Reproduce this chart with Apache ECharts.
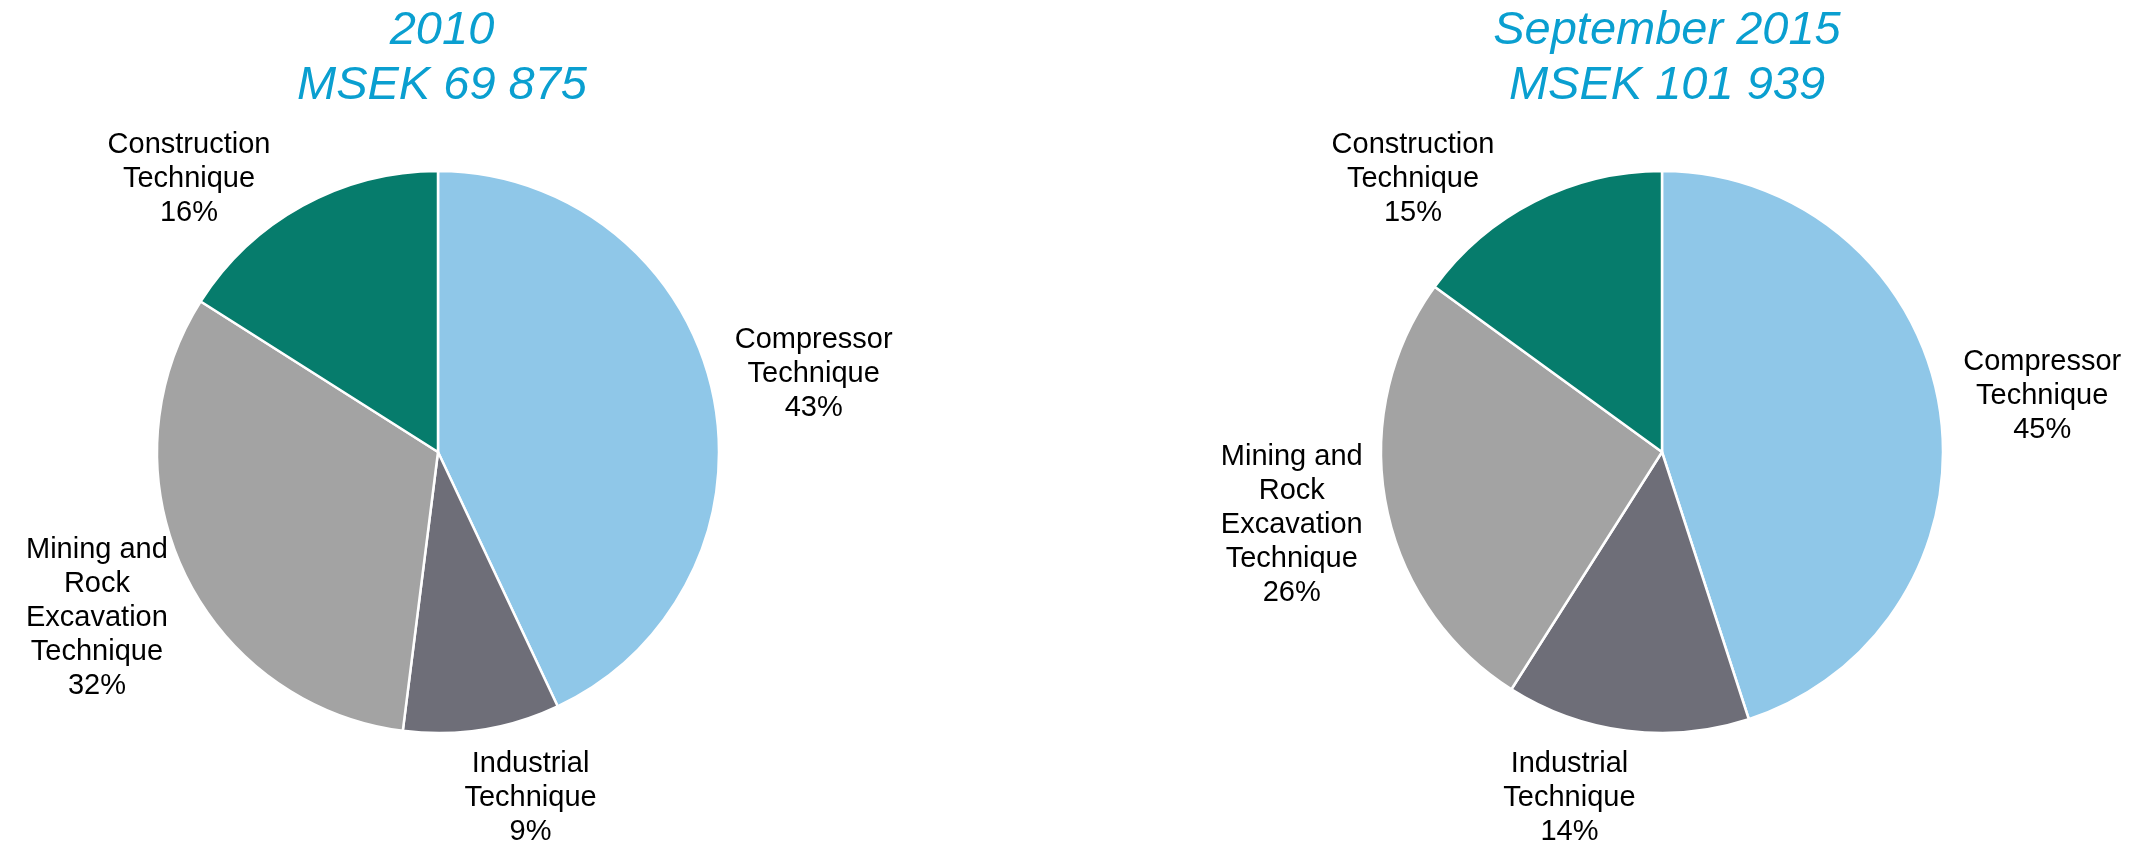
<!DOCTYPE html>
<html><head><meta charset="utf-8">
<script src="https://cdn.jsdelivr.net/npm/echarts@6/dist/echarts.min.js"></script>
<style>html,body{margin:0;padding:0;background:#fff}#c{width:2144px;height:844px}</style>
</head><body><div id="c"></div>
<script>
// ---- data ----
const categories = ['Compressor\nTechnique', 'Industrial\nTechnique', 'Mining and\nRock\nExcavation\nTechnique', 'Construction\nTechnique'];
const share2010 = [43, 9, 32, 16];
const shareSep2015 = [45, 14, 26, 15];
const title2010 = ['2010', 'MSEK 69 875'];
const titleSep2015 = ['September 2015', 'MSEK 101 939'];
const sliceColors = ['#8FC7E8', '#6E6E78', '#A3A3A3', '#067C6C'];

// ---- layout ----
const PIE_R = 281;
const pies = [
  { center: [438, 452], values: share2010, title: title2010, titleX: 442 },
  { center: [1662, 452], values: shareSep2015, title: titleSep2015, titleX: 1667 }
];
const LABEL_GAP = 25, LABEL_TOP = 127, LABEL_BOTTOM = 849;

function placeLabel(pie, idx, rect) {
  const vals = pie.values;
  const total = vals.reduce((a, b) => a + b, 0);
  let before = 0;
  for (let i = 0; i < idx; i++) before += vals[i];
  let theta = (before + vals[idx] / 2) / total * 2 * Math.PI;
  const w = rect.width / 2, h = rect.height / 2;
  const pos = t => {
    const dx = Math.sin(t), dy = -Math.cos(t);
    return [pie.center[0] + (PIE_R + LABEL_GAP + w) * dx,
            pie.center[1] + (PIE_R + LABEL_GAP + h) * dy, dx, dy];
  };
  let p = pos(theta);
  for (let k = 0; k < 900; k++) {
    const top = p[1] - h < LABEL_TOP, bottom = p[1] + h > LABEL_BOTTOM;
    if (!top && !bottom) break;
    theta += (p[2] >= 0 ? 1 : -1) * (top ? 1 : -1) * Math.PI / 900;
    p = pos(theta);
  }
  return { x: p[0], y: p[1] };
}

const chart = echarts.init(document.getElementById('c'), null, { renderer: 'canvas' });
chart.setOption({
  animation: false,
  backgroundColor: '#fff',
  title: pies.map(p => ({
    text: p.title.join('\n'),
    left: p.titleX, top: 3, textAlign: 'center', padding: 0,
    textStyle: { fontSize: 47, fontStyle: 'italic', fontWeight: 'normal', color: '#0A9FD0',
                 lineHeight: 55, fontFamily: 'Liberation Sans, Arial, sans-serif' }
  })),
  series: pies.map((p, si) => ({
    type: 'pie',
    center: p.center,
    radius: PIE_R,
    startAngle: 90,
    clockwise: true,
    avoidLabelOverlap: false,
    color: sliceColors,
    itemStyle: { borderColor: '#fff', borderWidth: 2.5 },
    emphasis: { disabled: true },
    label: {
      show: true, position: 'outside', color: '#000', fontSize: 29, lineHeight: 34,
      fontFamily: 'Liberation Sans, Arial, sans-serif', align: 'center',
      formatter: q => q.name + '\n' + q.value + '%'
    },
    labelLine: { show: false },
    labelLayout: params => {
      const r = placeLabel(p, params.dataIndex, params.labelRect);
      return { x: r.x, y: r.y, align: 'center', verticalAlign: 'middle' };
    },
    data: categories.map((n, i) => ({ name: n, value: p.values[i] }))
  }))
});
</script>
</body></html>
